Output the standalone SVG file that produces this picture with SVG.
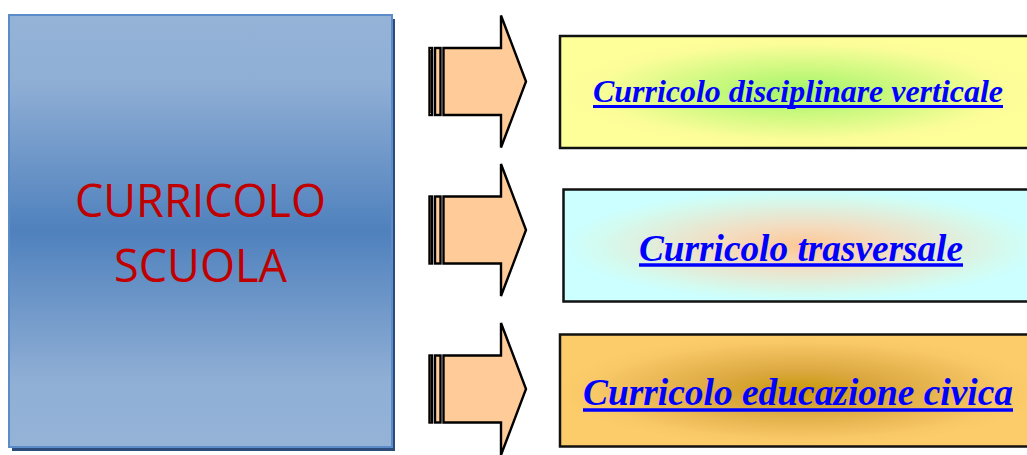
<svg xmlns="http://www.w3.org/2000/svg" width="1027" height="455" viewBox="0 0 1027 455">
  <defs>
    <linearGradient id="gBlue" x1="0" y1="0" x2="0" y2="1">
      <stop offset="0" stop-color="#95b3d7"/>
      <stop offset="0.15" stop-color="#90afd5"/>
      <stop offset="0.5" stop-color="#4f81bd"/>
      <stop offset="0.85" stop-color="#90afd5"/>
      <stop offset="1" stop-color="#95b3d7"/>
    </linearGradient>
    <radialGradient id="gBox1" cx="0.5" cy="0.5" r="0.5">
      <stop offset="0" stop-color="#a3f56a"/>
      <stop offset="0.35" stop-color="#c6f87c"/>
      <stop offset="0.85" stop-color="#fbfd99"/>
      <stop offset="1" stop-color="#ffff99"/>
    </radialGradient>
    <radialGradient id="gBox2" cx="0.5" cy="0.5" r="0.5">
      <stop offset="0" stop-color="#fdc895"/>
      <stop offset="0.35" stop-color="#f3dcc0"/>
      <stop offset="0.85" stop-color="#d3fbf0"/>
      <stop offset="1" stop-color="#ccffff"/>
    </radialGradient>
    <radialGradient id="gBox3" cx="0.5" cy="0.5" r="0.5">
      <stop offset="0" stop-color="#c99a08"/>
      <stop offset="0.35" stop-color="#dba840"/>
      <stop offset="0.85" stop-color="#f8c766"/>
      <stop offset="1" stop-color="#fccb6a"/>
    </radialGradient>
    <g id="arrow">
      <rect x="429.5" y="-33.5" width="2.5" height="67" fill="#ffcc99" stroke="#000" stroke-width="2.4"/>
      <rect x="435" y="-33.5" width="5.5" height="67" fill="#ffcc99" stroke="#000" stroke-width="2.4"/>
      <path d="M443.5,-33.5 H501 V-66 L526,0 L501,66 V33.5 H443.5 Z" fill="#ffcc99" stroke="#000" stroke-width="2.4" stroke-linejoin="miter"/>
    </g>
  </defs>
  <style>
    .main { font-family: "Open Sans", "Noto Sans", sans-serif; font-size: 46px; fill: #c00000; text-anchor: middle; }
    .box { stroke: #111; stroke-width: 2.5; }
    .lbl { font-family: "Liberation Serif", "Times New Roman", serif; font-style: italic; font-weight: bold; fill: #0000ff; text-anchor: middle; }
    .ul { stroke: #0000ff; }
  </style>

  <g id="curricolo-scuola">
    <rect x="12" y="19" width="383" height="432" fill="#2c4c7c"/>
    <rect x="9" y="15" width="383" height="432" fill="url(#gBlue)" stroke="#5b8bc9" stroke-width="2"/>
    <text class="main" x="200.5" y="217" textLength="251" lengthAdjust="spacingAndGlyphs">CURRICOLO</text>
    <text class="main" x="200.5" y="282" textLength="173" lengthAdjust="spacingAndGlyphs">SCUOLA</text>
  </g>

  <g id="connectors">
    <use href="#arrow" transform="translate(0,81.5)"/>
    <use href="#arrow" transform="translate(0,230)"/>
    <use href="#arrow" transform="translate(0,389)"/>
  </g>

  <g id="curricolo-disciplinare">
    <rect class="box" x="560" y="36" width="480" height="112" fill="url(#gBox1)"/>
    <text class="lbl" x="798" y="102" font-size="32" textLength="410" lengthAdjust="spacingAndGlyphs">Curricolo disciplinare verticale</text>
    <line class="ul" x1="593" y1="106.5" x2="1003" y2="106.5" stroke-width="3"/>
  </g>

  <g id="curricolo-trasversale">
    <rect class="box" x="563.5" y="189.5" width="480" height="112" fill="url(#gBox2)"/>
    <text class="lbl" x="801" y="261" font-size="37" textLength="324" lengthAdjust="spacingAndGlyphs">Curricolo trasversale</text>
    <line class="ul" x1="639" y1="265" x2="963" y2="265" stroke-width="3.5"/>
  </g>

  <g id="curricolo-civica">
    <rect class="box" x="560" y="334.5" width="480" height="112" fill="url(#gBox3)"/>
    <text class="lbl" x="798" y="405" font-size="37" textLength="430" lengthAdjust="spacingAndGlyphs">Curricolo educazione civica</text>
    <line class="ul" x1="583" y1="410" x2="1013" y2="410" stroke-width="3.5"/>
  </g>
</svg>
